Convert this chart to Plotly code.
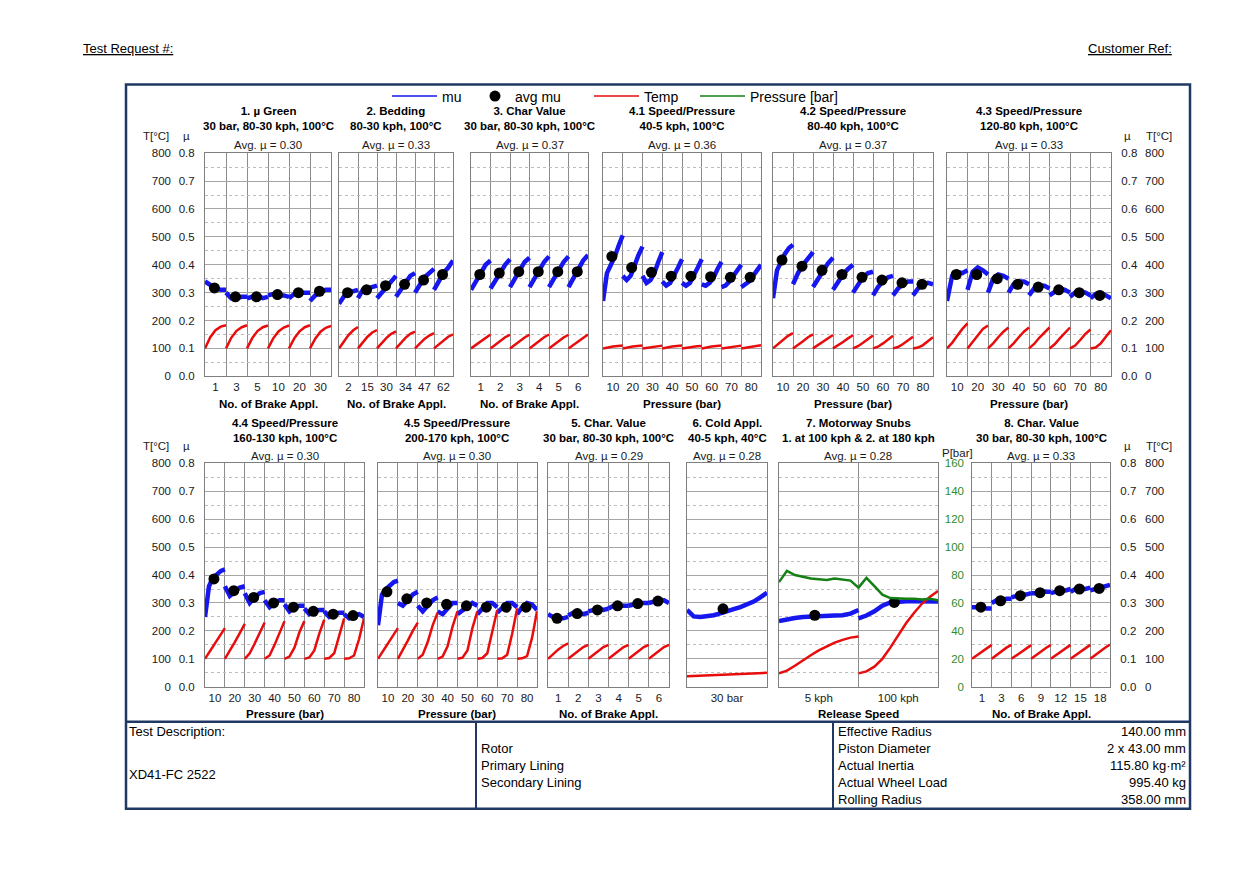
import plotly.graph_objects as go

# ---------------- data ----------------
# friction values per brake application segment (mu), temperature per segment (degC),
# average mu dot per segment

p1_ticks = ["1", "3", "5", "10", "20", "30"]
p1_mu = [
    [0.34, 0.325, 0.315, 0.31, 0.31],
    [0.30, 0.28, 0.28, 0.285, 0.285],
    [0.28, 0.285, 0.29, 0.28, 0.285],
    [0.29, 0.295, 0.29, 0.29, 0.285],
    [0.28, 0.295, 0.30, 0.30, 0.30],
    [0.27, 0.29, 0.30, 0.31, 0.31],
]
p1_temp = [
    [100, 140, 165, 178, 183],
    [100, 138, 163, 176, 183],
    [100, 137, 162, 176, 182],
    [100, 136, 161, 175, 182],
    [100, 136, 161, 176, 183],
    [100, 135, 160, 174, 181],
]
p1_avg = [0.317, 0.285, 0.285, 0.293, 0.30, 0.305]

p2_ticks = ["2", "15", "30", "34", "47", "62"]
p2_mu = [
    [0.26, 0.285, 0.30, 0.305, 0.31],
    [0.28, 0.31, 0.315, 0.32, 0.325],
    [0.28, 0.30, 0.32, 0.34, 0.36],
    [0.285, 0.31, 0.34, 0.36, 0.37],
    [0.30, 0.33, 0.355, 0.37, 0.385],
    [0.31, 0.34, 0.37, 0.39, 0.415],
]
p2_temp = [
    [100, 125, 148, 165, 177],
    [100, 122, 142, 157, 166],
    [100, 120, 138, 152, 161],
    [100, 120, 138, 152, 160],
    [100, 118, 134, 146, 155],
    [100, 115, 130, 142, 150],
]
p2_avg = [0.30, 0.31, 0.325, 0.33, 0.345, 0.365]

p3_ticks = ["1", "2", "3", "4", "5", "6"]
p3_mu = [
    [0.31, 0.34, 0.37, 0.40, 0.415],
    [0.315, 0.345, 0.375, 0.40, 0.42],
    [0.32, 0.35, 0.38, 0.41, 0.425],
    [0.32, 0.35, 0.38, 0.41, 0.43],
    [0.32, 0.35, 0.38, 0.41, 0.43],
    [0.32, 0.35, 0.385, 0.415, 0.435],
]
p3_temp = [
    [100, 113, 127, 140, 150],
    [100, 114, 128, 140, 149],
    [100, 113, 127, 139, 149],
    [100, 114, 128, 140, 150],
    [100, 113, 127, 139, 149],
    [100, 113, 127, 140, 150],
]
p3_avg = [0.365, 0.37, 0.375, 0.375, 0.375, 0.375]

pressure_ticks = ["10", "20", "30", "40", "50", "60", "70", "80"]

p41_mu = [
    [0.27, 0.37, 0.40, 0.43, 0.47, 0.505],
    [0.36, 0.345, 0.36, 0.40, 0.435, 0.465],
    [0.36, 0.335, 0.345, 0.37, 0.41, 0.445],
    [0.34, 0.325, 0.335, 0.36, 0.39, 0.42],
    [0.335, 0.325, 0.335, 0.36, 0.39, 0.42],
    [0.33, 0.325, 0.335, 0.355, 0.385, 0.41],
    [0.32, 0.325, 0.34, 0.36, 0.38, 0.40],
    [0.32, 0.33, 0.34, 0.36, 0.38, 0.40],
]
p41_temp = [
    [100, 104, 107, 109, 110],
    [100, 104, 107, 109, 110],
    [100, 103, 106, 108, 110],
    [100, 104, 107, 109, 110],
    [100, 103, 106, 108, 109],
    [100, 104, 107, 109, 110],
    [100, 103, 106, 108, 110],
    [100, 103, 106, 109, 111],
]
p41_avg = [0.43, 0.39, 0.373, 0.359, 0.359, 0.357, 0.355, 0.355]

p42_mu = [
    [0.28, 0.38, 0.41, 0.44, 0.46, 0.472],
    [0.33, 0.37, 0.40, 0.425, 0.445],
    [0.32, 0.35, 0.38, 0.405, 0.425],
    [0.31, 0.34, 0.365, 0.385, 0.40],
    [0.30, 0.33, 0.355, 0.37, 0.375],
    [0.29, 0.32, 0.34, 0.355, 0.36],
    [0.29, 0.315, 0.33, 0.34, 0.34],
    [0.29, 0.315, 0.33, 0.335, 0.33],
]
p42_temp = [
    [100, 115, 130, 145, 155],
    [100, 112, 126, 140, 150],
    [100, 112, 125, 138, 148],
    [100, 110, 123, 136, 147],
    [100, 108, 120, 133, 146],
    [100, 106, 118, 132, 145],
    [100, 105, 116, 130, 142],
    [100, 103, 112, 126, 140],
]
p42_avg = [0.417, 0.395, 0.38, 0.365, 0.355, 0.345, 0.335, 0.33]

p43_mu = [
    [0.27, 0.36, 0.375, 0.37, 0.38],
    [0.31, 0.375, 0.39, 0.38, 0.365],
    [0.30, 0.35, 0.365, 0.36, 0.35],
    [0.30, 0.33, 0.34, 0.34, 0.33],
    [0.29, 0.315, 0.325, 0.325, 0.315],
    [0.29, 0.305, 0.315, 0.31, 0.30],
    [0.285, 0.30, 0.305, 0.30, 0.29],
    [0.28, 0.295, 0.30, 0.29, 0.28],
]
p43_temp = [
    [100, 120, 145, 170, 190],
    [100, 122, 148, 170, 182],
    [100, 118, 140, 160, 175],
    [100, 118, 140, 160, 175],
    [100, 116, 138, 158, 175],
    [100, 115, 136, 157, 175],
    [100, 110, 130, 152, 168],
    [100, 103, 118, 140, 165],
]
p43_avg = [0.365, 0.365, 0.35, 0.33, 0.32, 0.31, 0.30, 0.29]

p44_mu = [
    [0.25, 0.36, 0.39, 0.405, 0.415, 0.42],
    [0.36, 0.325, 0.34, 0.355, 0.36],
    [0.335, 0.30, 0.32, 0.335, 0.34],
    [0.31, 0.285, 0.30, 0.31, 0.31],
    [0.295, 0.27, 0.285, 0.29, 0.29],
    [0.28, 0.26, 0.27, 0.275, 0.275],
    [0.27, 0.25, 0.26, 0.265, 0.265],
    [0.26, 0.245, 0.255, 0.26, 0.25],
]
p44_temp = [
    [100, 128, 155, 183, 210],
    [100, 128, 160, 192, 225],
    [100, 120, 155, 195, 230],
    [100, 112, 150, 195, 235],
    [100, 108, 140, 195, 235],
    [100, 105, 130, 190, 240],
    [100, 103, 120, 180, 245],
    [100, 102, 112, 170, 245],
]
p44_avg = [0.386, 0.344, 0.32, 0.30, 0.285, 0.27, 0.26, 0.255]

p45_mu = [
    [0.22, 0.33, 0.35, 0.365, 0.375, 0.38],
    [0.30, 0.29, 0.31, 0.33, 0.34],
    [0.29, 0.27, 0.29, 0.31, 0.32],
    [0.27, 0.26, 0.28, 0.30, 0.30],
    [0.26, 0.275, 0.29, 0.30, 0.29],
    [0.26, 0.28, 0.30, 0.30, 0.285],
    [0.265, 0.285, 0.30, 0.30, 0.285],
    [0.26, 0.285, 0.30, 0.295, 0.275],
]
p45_temp = [
    [100, 128, 155, 183, 210],
    [100, 130, 165, 200, 230],
    [100, 115, 160, 220, 265],
    [100, 108, 145, 215, 270],
    [100, 104, 130, 210, 270],
    [100, 103, 120, 200, 275],
    [100, 102, 115, 190, 280],
    [100, 102, 110, 175, 270],
]
p45_avg = [0.34, 0.315, 0.30, 0.295, 0.29, 0.285, 0.285, 0.285]

p5_ticks = ["1", "2", "3", "4", "5", "6"]
p5_mu = [
    [0.26, 0.25, 0.245, 0.245, 0.25],
    [0.255, 0.265, 0.265, 0.26, 0.265],
    [0.27, 0.275, 0.28, 0.275, 0.28],
    [0.28, 0.29, 0.29, 0.29, 0.29],
    [0.29, 0.295, 0.30, 0.30, 0.30],
    [0.30, 0.305, 0.31, 0.31, 0.30],
]
p5_temp = [
    [100, 117, 133, 146, 155],
    [100, 115, 130, 142, 150],
    [100, 115, 130, 142, 150],
    [100, 115, 130, 142, 150],
    [100, 115, 130, 142, 150],
    [100, 115, 130, 142, 150],
]
p5_avg = [0.245, 0.262, 0.275, 0.29, 0.298, 0.307]

p6_ticks = ["30 bar"]
p6_mu = [[0.275, 0.252, 0.25, 0.252, 0.256, 0.263, 0.272, 0.278, 0.285, 0.293, 0.305, 0.32, 0.337]]
p6_temp = [[38, 40, 42, 44, 46, 48, 50]]
p6_avg = [0.279]

p7_ticks = ["5 kph", "100 kph"]
p7_mu = [
    [0.235, 0.242, 0.246, 0.25, 0.252, 0.255, 0.254, 0.255, 0.256, 0.262, 0.275],
    [0.245, 0.255, 0.27, 0.29, 0.302, 0.305, 0.306, 0.306, 0.307, 0.306, 0.305],
]
p7_temp = [
    [48, 58, 75, 95, 113, 130, 145, 158, 168, 176, 180],
    [48, 55, 72, 100, 140, 185, 228, 265, 298, 322, 343],
]
p7_avg = [0.256, 0.302]
p7_pressure = [75, 83, 80, 78.5, 77.5, 77, 76.5, 77.5, 77, 76, 71,
               78, 72, 66, 63.5, 63, 63, 63, 62.5, 63, 62]

p8_ticks = ["1", "3", "6", "9", "12", "15", "18"]
p8_mu = [
    [0.285, 0.285, 0.285, 0.28, 0.28],
    [0.30, 0.31, 0.31, 0.315, 0.315],
    [0.32, 0.325, 0.33, 0.33, 0.335],
    [0.335, 0.335, 0.34, 0.34, 0.34],
    [0.335, 0.34, 0.345, 0.345, 0.35],
    [0.34, 0.35, 0.35, 0.35, 0.355],
    [0.345, 0.35, 0.355, 0.36, 0.365],
]
p8_temp = [
    [100, 113, 126, 139, 150],
    [100, 114, 127, 140, 150],
    [100, 113, 126, 139, 149],
    [100, 114, 127, 139, 150],
    [100, 113, 126, 139, 150],
    [100, 113, 127, 140, 150],
    [100, 114, 127, 140, 151],
]
p8_avg = [0.285, 0.308, 0.326, 0.337, 0.344, 0.35, 0.352]

table_mid = ["Rotor", "Primary Lining", "Secondary Lining"]
table_keys = ["Effective Radius", "Piston Diameter", "Actual Inertia", "Actual Wheel Load", "Rolling Radius"]
table_vals = ["140.00 mm", "2 x 43.00 mm", "115.80 kg·m²", "995.40 kg", "358.00 mm"]

# ---------------- layout helpers ----------------
W, H, OFF = 1238, 857, 8   # page has an 8px body margin


def X(p):
    return (p - OFF) / W


def Y(p):
    # small empirical correction for the vertical placement seen in the render
    q = (p - 5.7) / 0.9855
    return 1 - (q - OFF) / H


FONT = "Liberation Sans, Arial, sans-serif"
BLUE = "rgb(22,22,238)"
RED = "rgb(232,12,12)"
GREEN = "rgb(20,128,20)"
NAVY = "#1F3864"
BORDER = "#7F7F7F"
HGRID = "#A6A6A6"
MGRID = "#BDBDBD"
VGRID = "#8C8C8C"

ROWS = {1: dict(top=152.7, bot=375.7, title=118.5, avg=145, xt=403),
        2: dict(top=462.7, bot=686.0, title=430, avg=455, xt=713)}

panels = [
    dict(t="1. µ Green<br>30 bar, 80-30 kph, 100°C", avg="0.30", ticks=p1_ticks, mu=p1_mu, temp=p1_temp, dots=p1_avg, xt="No. of Brake Appl.", row=1, x0=205, x1=331),
    dict(t="2. Bedding<br>80-30 kph, 100°C", avg="0.33", ticks=p2_ticks, mu=p2_mu, temp=p2_temp, dots=p2_avg, xt="No. of Brake Appl.", row=1, x0=339, x1=453),
    dict(t="3. Char Value<br>30 bar, 80-30 kph, 100°C", avg="0.37", ticks=p3_ticks, mu=p3_mu, temp=p3_temp, dots=p3_avg, xt="No. of Brake Appl.", row=1, x0=471, x1=588),
    dict(t="4.1 Speed/Pressure<br>40-5 kph, 100°C", avg="0.36", ticks=pressure_ticks, mu=p41_mu, temp=p41_temp, dots=p41_avg, xt="Pressure (bar)", row=1, x0=603, x1=761),
    dict(t="4.2 Speed/Pressure<br>80-40 kph, 100°C", avg="0.37", ticks=pressure_ticks, mu=p42_mu, temp=p42_temp, dots=p42_avg, xt="Pressure (bar)", row=1, x0=773, x1=933),
    dict(t="4.3 Speed/Pressure<br>120-80 kph, 100°C", avg="0.33", ticks=pressure_ticks, mu=p43_mu, temp=p43_temp, dots=p43_avg, xt="Pressure (bar)", row=1, x0=947, x1=1111),
    dict(t="4.4 Speed/Pressure<br>160-130 kph, 100°C", avg="0.30", ticks=pressure_ticks, mu=p44_mu, temp=p44_temp, dots=p44_avg, xt="Pressure (bar)", row=2, x0=205, x1=364),
    dict(t="4.5 Speed/Pressure<br>200-170 kph, 100°C", avg="0.30", ticks=pressure_ticks, mu=p45_mu, temp=p45_temp, dots=p45_avg, xt="Pressure (bar)", row=2, x0=378, x1=537),
    dict(t="5. Char. Value<br>30 bar, 80-30 kph, 100°C", avg="0.29", ticks=p5_ticks, mu=p5_mu, temp=p5_temp, dots=p5_avg, xt="No. of Brake Appl.", row=2, x0=548, x1=669),
    dict(t="6. Cold Appl.<br>40-5 kph, 40°C", avg="0.28", ticks=p6_ticks, mu=p6_mu, temp=p6_temp, dots=p6_avg, xt="", row=2, x0=687, x1=767),
    dict(t="7. Motorway Snubs<br>1. at 100 kph & 2. at 180 kph", avg="0.28", ticks=p7_ticks, mu=p7_mu, temp=p7_temp, dots=p7_avg, xt="Release Speed", row=2, x0=779, x1=938, pressure=p7_pressure),
    dict(t="8. Char. Value<br>30 bar, 80-30 kph, 100°C", avg="0.33", ticks=p8_ticks, mu=p8_mu, temp=p8_temp, dots=p8_avg, xt="No. of Brake Appl.", row=2, x0=972, x1=1110),
]

first_in_row = {0, 6}
last_in_row = {5, 11}


def sfx(k):
    return "" if k == 1 else str(k)


def segments(segs):
    xs, ys = [], []
    for j, seg in enumerate(segs):
        n = len(seg)
        xs += [j + i / (n - 1) for i in range(n)] + [None]
        ys += list(seg) + [None]
    return xs, ys


def note(x, y, text, size=11.5, xanchor="center", color="#1a1a1a"):
    return dict(x=X(x), y=Y(y), text=text, showarrow=False, xref="paper", yref="paper",
                xanchor=xanchor, yanchor="middle", font=dict(family=FONT, size=size, color=color))


fig = go.Figure()
lay = {}
annotations = []
tick_font = dict(family=FONT, size=11.5, color="#1a1a1a")
extra = len(panels)

for idx, p in enumerate(panels):
    k = idx + 1
    s = sfx(k)
    n = len(p["mu"])
    r = ROWS[p["row"]]
    extra += 1
    tk = extra  # temperature axis

    tx, ty = segments(p["temp"])
    fig.add_trace(go.Scatter(x=tx, y=ty, mode="lines", line=dict(color=RED, width=2.5),
                             xaxis="x" + s, yaxis="y" + str(tk), showlegend=False, hoverinfo="skip"))
    if "pressure" in p:
        extra += 1
        pk = extra
        pv = p["pressure"]
        px_ = [i * n / (len(pv) - 1) for i in range(len(pv))]
        fig.add_trace(go.Scatter(x=px_, y=pv, mode="lines", line=dict(color=GREEN, width=2.5),
                                 xaxis="x" + s, yaxis="y" + str(pk), showlegend=False))
        lay["yaxis" + str(pk)] = dict(overlaying="y" + s, range=[0, 160], tick0=0, dtick=20,
                                      showgrid=False, zeroline=False, showline=False, ticks="",
                                      side="left", anchor="free", position=X(964),
                                      tickfont=dict(family=FONT, size=11.5, color="#2E8B2E"),
                                      fixedrange=True)
    mx, my = segments(p["mu"])
    fig.add_trace(go.Scatter(x=mx, y=my, mode="lines", line=dict(color=BLUE, width=4.5),
                             xaxis="x" + s, yaxis="y" + s, showlegend=False))
    fig.add_trace(go.Scatter(x=[j + 0.45 for j in range(len(p["dots"]))], y=p["dots"], mode="markers",
                             marker=dict(color="black", size=11), xaxis="x" + s, yaxis="y" + s,
                             showlegend=False))

    lay["xaxis" + s] = dict(
        domain=[X(p["x0"]), X(p["x1"])], anchor="y" + s, range=[0, n],
        tickmode="array", tickvals=[j + 0.5 for j in range(n)], ticktext=p["ticks"],
        showgrid=False, zeroline=False, showline=True, mirror=True, linecolor=BORDER, linewidth=1,
        ticks="", tickfont=tick_font, ticklabelstandoff=0, fixedrange=True,
        minor=dict(tickmode="array", tickvals=list(range(1, n)), showgrid=True,
                   gridcolor=VGRID, gridwidth=1),
    )
    side = "right" if idx in last_in_row else "left"
    lay["yaxis" + s] = dict(
        domain=[Y(r["bot"]), Y(r["top"])], anchor="x" + s, range=[0, 0.8], tick0=0, dtick=0.1,
        showgrid=True, gridcolor=HGRID, gridwidth=1,
        minor=dict(tick0=0, dtick=0.05, showgrid=True, gridcolor=MGRID, griddash="dot", gridwidth=1),
        zeroline=False, showline=True, mirror=True, linecolor=BORDER, linewidth=1, ticks="",
        side=side, showticklabels=(idx in first_in_row or idx in last_in_row),
        tickformat=".1f", tickfont=tick_font, ticklabelstandoff=7, fixedrange=True,
    )
    tax = dict(overlaying="y" + s, range=[0, 800], tick0=0, dtick=100, showgrid=False,
               zeroline=False, showline=False, ticks="", tickfont=tick_font, fixedrange=True)
    if idx in first_in_row:
        tax.update(side="left", anchor="free", position=X(171))
    elif idx in last_in_row:
        tax.update(side="right", anchor="free", position=X(1144))
    else:
        tax.update(visible=False, anchor="x" + s)
    lay["yaxis" + str(tk)] = tax

    cx = (p["x0"] + p["x1"]) / 2
    annotations.append(note(cx, r["title"], "<b>" + p["t"].replace("<br>", "</b><br><b>") + "</b>", color="black"))
    annotations.append(note(cx, r["avg"], "Avg. µ = " + p["avg"]))
    if p["xt"]:
        annotations.append(note(cx, r["xt"], "<b>" + p["xt"] + "</b>", color="black"))

# axis headings
for yy in (136, 445):
    for txt, xx in (("T[°C]", 156), ("µ", 186), ("µ", 1127), ("T[°C]", 1159)):
        annotations.append(note(xx, yy, txt))
annotations.append(note(957, 452, "P[bar]"))

# header
annotations.append(note(81, 48, "<u>Test Request #:</u>", size=13, xanchor="left", color="black"))
annotations.append(note(1174, 48, "<u>Customer Ref:</u>", size=13, xanchor="right", color="black"))

# table
annotations.append(note(127, 731, "Test Description:", size=13, xanchor="left", color="black"))
annotations.append(note(127, 774, "XD41-FC 2522", size=13, xanchor="left", color="black"))
for i, txt in enumerate(table_mid):
    annotations.append(note(479, 748 + 17 * i, txt, size=13, xanchor="left", color="black"))
for i, (kk, vv) in enumerate(zip(table_keys, table_vals)):
    yy = 731 + 16.8 * i
    annotations.append(note(836, yy, kk, size=13, xanchor="left", color="black"))
    annotations.append(note(1188, yy, vv, size=13, xanchor="right", color="black"))

shapes = [
    dict(type="rect", xref="paper", yref="paper", x0=X(126), x1=X(1190), y0=Y(808), y1=Y(84),
         line=dict(color=NAVY, width=2.5)),
    dict(type="line", xref="paper", yref="paper", x0=X(126), x1=X(1190), y0=Y(721), y1=Y(721),
         line=dict(color=NAVY, width=2.5)),
    dict(type="line", xref="paper", yref="paper", x0=X(476), x1=X(476), y0=Y(721), y1=Y(808),
         line=dict(color=NAVY, width=2)),
    dict(type="line", xref="paper", yref="paper", x0=X(833), x1=X(833), y0=Y(721), y1=Y(808),
         line=dict(color=NAVY, width=2)),
]

# legend entries (thin sample lines like the original), one small legend each
fig.add_trace(go.Scatter(x=[None], y=[None], mode="lines", name="mu", legend="legend",
                         line=dict(color=BLUE, width=1.5)))
fig.add_trace(go.Scatter(x=[None], y=[None], mode="markers", name="avg mu", legend="legend2",
                         marker=dict(color="black", size=11)))
fig.add_trace(go.Scatter(x=[None], y=[None], mode="lines", name="Temp", legend="legend3",
                         line=dict(color=RED, width=1.5)))
fig.add_trace(go.Scatter(x=[None], y=[None], mode="lines", name="Pressure [bar]", legend="legend4",
                         line=dict(color=GREEN, width=1.5)))

leg_font = dict(family=FONT, size=14, color="black")


def leg(x, w):
    return dict(x=X(x), y=Y(96), xanchor="left", yanchor="middle", orientation="h",
                font=leg_font, bgcolor="rgba(0,0,0,0)", itemwidth=w)


fig.update_layout(**lay)
fig.update_layout(
    width=W, height=H, margin=dict(l=0, r=0, t=0, b=0),
    paper_bgcolor="white", plot_bgcolor="white",
    font=dict(family=FONT, size=11.5, color="black"),
    annotations=annotations, shapes=shapes,
    showlegend=True,
    legend=leg(387, 45), legend2=leg(475, 30), legend3=leg(589, 45), legend4=leg(695, 45),
)

fig.write_html("out.html")
